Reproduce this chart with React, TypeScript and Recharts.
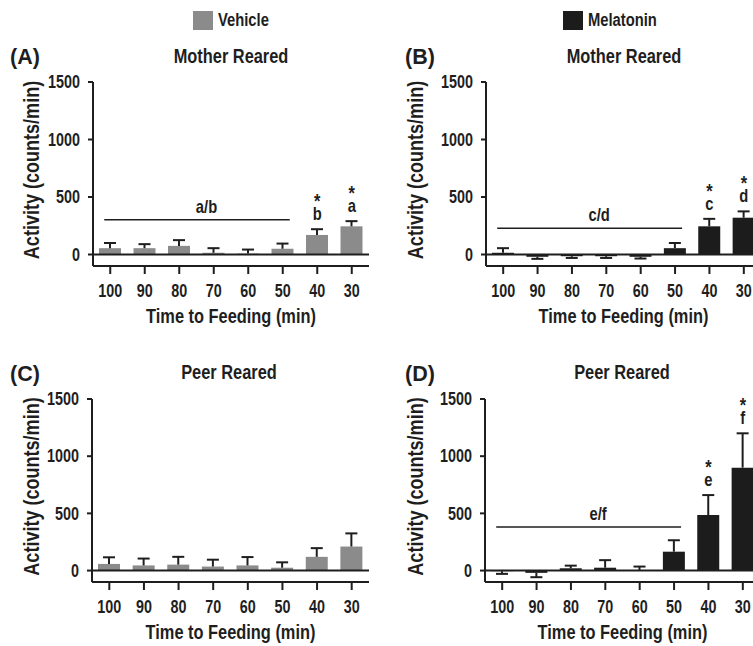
import React from "react";
import {
  BarChart,
  Bar,
  XAxis,
  YAxis,
  ErrorBar,
  ReferenceLine,
  ReferenceDot,
  Legend,
} from "recharts";

const FONT = "'Liberation Sans', Arial, sans-serif";
const INK = "#1e1e1e";
const VEHICLE = "#8b8b8b";
const MELATONIN = "#1c1c1c";
const SQUEEZE = 0.82; // no narrow face installed, so squeeze the bold sans

// x categories: minutes before feeding
const categories = ["100", "90", "80", "70", "60", "50", "40", "30"];
const yTicks = [0, 500, 1000, 1500];

// (A) mother reared, vehicle
const motherVehicleMean = [55, 55, 75, 15, 8, 50, 170, 245];
const motherVehicleSem = [45, 35, 50, 40, 35, 45, 50, 45];
// (B) mother reared, melatonin
const motherMelatoninMean = [15, -20, -15, -15, -20, 55, 245, 320];
const motherMelatoninSem = [40, 18, 15, 15, 15, 45, 65, 55];
// (C) peer reared, vehicle
const peerVehicleMean = [58, 45, 52, 35, 45, 25, 120, 210];
const peerVehicleSem = [58, 60, 68, 60, 73, 47, 76, 115];
// (D) peer reared, melatonin
const peerMelatoninMean = [-5, -20, 20, 25, 5, 165, 485, 900];
const peerMelatoninSem = [24, 38, 23, 66, 30, 100, 175, 300];

// significance brackets and letters
const bracketA = { from: "100", to: "50", level: 302, text: "a/b" };
const bracketB = { from: "100", to: "50", level: 229, text: "c/d" };
const bracketD = { from: "100", to: "50", level: 381, text: "e/f" };
const marksA = [{ time: "40", letter: "b" }, { time: "30", letter: "a" }];
const marksB = [{ time: "40", letter: "c" }, { time: "30", letter: "d" }];
const marksD = [{ time: "40", letter: "e" }, { time: "30", letter: "f" }];

const bold = { fontFamily: FONT, fontWeight: 700, fill: INK };

function NText({ x, y, size, anchor = "middle", angle = 0, children }: any) {
  return (
    <text
      transform={`translate(${x},${y}) rotate(${angle}) scale(${SQUEEZE},1)`}
      textAnchor={anchor}
      fontSize={size}
      {...bold}
    >
      {children}
    </text>
  );
}

function buildRows(means: number[], sems: number[]) {
  return categories.map((time, i) => ({
    time,
    mean: means[i],
    // one-sided error: away from zero only
    err: [0, means[i] >= 0 ? sems[i] : -sems[i]],
  }));
}

function Panel(props: any) {
  const {
    left, top, width, height, axisWidth, plotTop, xAxisHeight, marginRight,
    means, sems, color, name, ylabelX, bracket, marks, legendLeft,
  } = props;
  const rows = buildRows(means, sems);

  return (
    <div style={{ position: "absolute", left, top }}>
      <BarChart
        width={width}
        height={height}
        data={rows}
        margin={{ top: plotTop, right: marginRight, bottom: 0, left: 0 }}
      >
        <XAxis
          dataKey="time"
          interval={0}
          height={xAxisHeight}
          tickSize={8}
          tickMargin={10}
          axisLine={{ stroke: INK, strokeWidth: 2 }}
          tickLine={{ stroke: INK, strokeWidth: 2 }}
          tick={(p: any) => (
            <NText x={p.x} y={p.y + 12.5} size={17.5}>
              {p.payload.value}
            </NText>
          )}
          label={({ viewBox }: any) => (
            <NText x={viewBox.x + viewBox.width / 2} y={viewBox.y + 57} size={20}>
              Time to Feeding (min)
            </NText>
          )}
        />
        <YAxis
          width={axisWidth}
          domain={[-100, 1500]}
          ticks={yTicks}
          interval={0}
          tickSize={5}
          tickMargin={8}
          axisLine={{ stroke: INK, strokeWidth: 2 }}
          tickLine={{ stroke: INK, strokeWidth: 2 }}
          tick={(p: any) => (
            <NText x={p.x} y={p.y + 6.2} size={17.5} anchor="end">
              {p.payload.value}
            </NText>
          )}
          label={({ viewBox }: any) => (
            <NText
              x={ylabelX + 7}
              y={viewBox.y + viewBox.height / 2 - 4}
              size={22}
              angle={-90}
            >
              Activity (counts/min)
            </NText>
          )}
        />
        {legendLeft != null && (
          <Legend
            layout="horizontal"
            verticalAlign="middle"
            align="center"
            wrapperStyle={{ left: legendLeft, top: 10, width: "auto" }}
            content={({ payload }: any) => (
              <div style={{ display: "flex", alignItems: "center" }}>
                {(payload || []).map((entry: any) => (
                  <div
                    key={entry.value}
                    style={{
                      display: "flex",
                      alignItems: "center",
                      fontFamily: FONT,
                      fontWeight: 700,
                      fontSize: 18,
                      color: INK,
                      whiteSpace: "nowrap",
                    }}
                  >
                    <span
                      style={{
                        display: "inline-block",
                        width: 20,
                        height: 19,
                        background: entry.color,
                        marginRight: 5,
                      }}
                    />
                    <span
                      style={{
                        display: "inline-block",
                        transform: `scaleX(${SQUEEZE})`,
                        transformOrigin: "left center",
                      }}
                    >
                      {entry.value}
                    </span>
                  </div>
                ))}
              </div>
            )}
          />
        )}
        <Bar
          dataKey="mean"
          name={name}
          fill={color}
          barSize={22}
          isAnimationActive={false}
        >
          <ErrorBar
            dataKey="err"
            width={6}
            stroke={INK}
            strokeWidth={2}
            isAnimationActive={false}
          />
        </Bar>
        <ReferenceLine y={0} stroke={INK} strokeWidth={2} />
        {bracket && (
          <ReferenceLine
            segment={[
              { x: bracket.from, y: bracket.level },
              { x: bracket.to, y: bracket.level },
            ]}
            shape={(p: any) => (
              <g>
                <line
                  x1={p.x1 - 6}
                  y1={p.y1}
                  x2={p.x2 + 7}
                  y2={p.y2}
                  stroke={INK}
                  strokeWidth={1.5}
                />
                <NText x={(p.x1 + p.x2) / 2 + 10} y={p.y1 - 7} size={18}>
                  {bracket.text}
                </NText>
              </g>
            )}
          />
        )}
        {(marks || []).map((m: any) => {
          const i = categories.indexOf(m.time);
          return (
            <ReferenceDot
              key={m.time}
              x={m.time}
              y={means[i] + sems[i]}
              r={0}
              shape={(p: any) => (
                <g>
                  <NText x={p.cx} y={p.cy - 21} size={20}>*</NText>
                  <NText x={p.cx} y={p.cy - 9} size={18}>{m.letter}</NText>
                </g>
              )}
            />
          );
        })}
      </BarChart>
    </div>
  );
}

export default function App() {
  return (
    <div
      style={{
        position: "absolute",
        left: 0,
        top: 0,
        width: 753,
        height: 646,
        overflow: "hidden",
        background: "#fff",
      }}
    >
      <style>{`.recharts-errorBar line:last-of-type{display:none}`}</style>
      <Panel
        left={0} top={0} width={380} height={340}
        axisWidth={93} plotTop={82} xAxisHeight={74} marginRight={11}
        means={motherVehicleMean} sems={motherVehicleSem}
        color={VEHICLE} name="Vehicle" ylabelX={32}
        bracket={bracketA} marks={marksA} legendLeft={193}
      />
      <Panel
        left={380} top={0} width={390} height={340}
        axisWidth={106} plotTop={82} xAxisHeight={74} marginRight={9}
        means={motherMelatoninMean} sems={motherMelatoninSem}
        color={MELATONIN} name="Melatonin" ylabelX={36}
        bracket={bracketB} marks={marksB} legendLeft={183}
      />
      <Panel
        left={0} top={320} width={380} height={326}
        axisWidth={92} plotTop={79} xAxisHeight={64} marginRight={11}
        means={peerVehicleMean} sems={peerVehicleSem}
        color={VEHICLE} name="Vehicle" ylabelX={32}
        bracket={null} marks={[]} legendLeft={null}
      />
      <Panel
        left={380} top={320} width={390} height={326}
        axisWidth={105} plotTop={79} xAxisHeight={64} marginRight={10}
        means={peerMelatoninMean} sems={peerMelatoninSem}
        color={MELATONIN} name="Melatonin" ylabelX={36}
        bracket={bracketD} marks={marksD} legendLeft={null}
      />
      <svg
        width={753}
        height={646}
        style={{ position: "absolute", left: 0, top: 0, pointerEvents: "none" }}
      >
        <text x={10} y={64} fontSize={21.5} {...bold}>(A)</text>
        <NText x={231} y={63} size={20}>Mother Reared</NText>
        <text x={405} y={64} fontSize={21.5} {...bold}>(B)</text>
        <NText x={624} y={63} size={20}>Mother Reared</NText>
        <text x={10} y={381} fontSize={21.5} {...bold}>(C)</text>
        <NText x={229} y={379} size={20}>Peer Reared</NText>
        <text x={405} y={381} fontSize={21.5} {...bold}>(D)</text>
        <NText x={622} y={379} size={20}>Peer Reared</NText>
      </svg>
    </div>
  );
}
